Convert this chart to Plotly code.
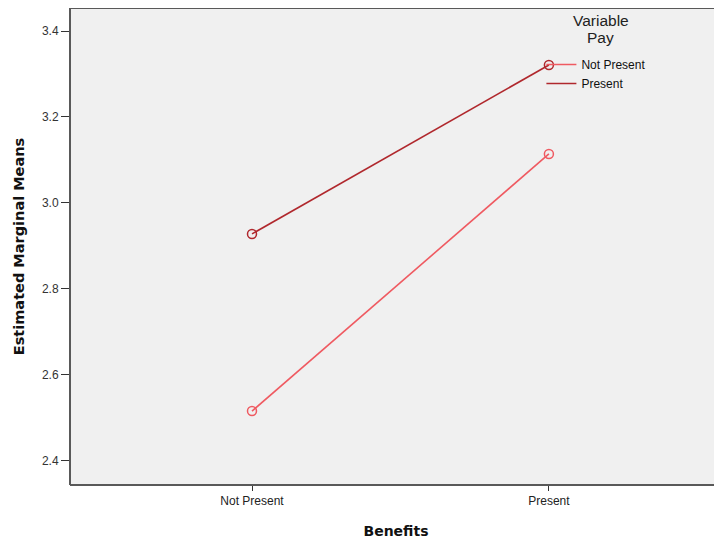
import plotly.graph_objects as go

benefits = ["Not Present", "Present"]
vp_not_present = [2.516, 3.114]
vp_present = [2.928, 3.321]
series_names = ["Not Present", "Present"]
colors = ["#ef5a61", "#b0282d"]
y_ticks = [2.4, 2.6, 2.8, 3.0, 3.2, 3.4]
legend_title_lines = ["Variable", "Pay"]

fig = go.Figure()
for name, vals, col in zip(series_names, [vp_not_present, vp_present], colors):
    fig.add_trace(go.Scatter(
        x=benefits, y=vals, mode="lines+markers", name=name,
        line=dict(color=col, width=1.6),
        marker=dict(symbol="circle-open", size=9, color=col, line=dict(width=1.5, color=col)),
        showlegend=False,
    ))
for name, col in zip(series_names, colors):
    fig.add_trace(go.Scatter(
        x=[None], y=[None], mode="lines", name=name,
        line=dict(color=col, width=1.6), showlegend=True,
    ))

title_annots = [
    dict(text=t, xref="paper", yref="paper", x=0.8144, y=yy,
         xanchor="center", yanchor="middle", align="center", showarrow=False,
         font=dict(size=15.5, color="#222"))
    for t, yy in zip(legend_title_lines, [0.9748, 0.9392])
]

frame = "#595959"
fig.update_layout(
    width=714, height=536,
    margin=dict(l=62, r=0, t=0, b=59),
    paper_bgcolor="white",
    plot_bgcolor="#f0f0f0",
    font=dict(family="Liberation Sans, Arial, sans-serif", size=12, color="#222"),
    xaxis=dict(
        type="category", range=[-0.613, 1.583],
        showgrid=False, zeroline=False, showline=False,
        ticks="outside", ticklen=5, tickcolor="#333", tickwidth=1,
        tickfont=dict(size=12, color="#222"),
        title=dict(text="<b>Benefits</b>", standoff=18,
                   font=dict(family="DejaVu Sans, sans-serif", size=14, color="#111")),
    ),
    yaxis=dict(
        range=[2.344, 3.4535], tickvals=y_ticks,
        ticktext=[f"{v:.1f}" for v in y_ticks],
        showgrid=False, zeroline=False, showline=False,
        ticks="outside", ticklen=8, tickcolor="#333", tickwidth=1,
        tickfont=dict(size=12, color="#333"),
        title=dict(text="<b>Estimated Marginal Means</b>", standoff=13,
                   font=dict(family="DejaVu Sans, sans-serif", size=14.5, color="#111")),
    ),
    legend=dict(
        x=0.723, y=0.912, xanchor="left", yanchor="top",
        bgcolor="rgba(0,0,0,0)",
        font=dict(size=12, color="#111"),
        tracegroupgap=0,
    ),
    annotations=title_annots,
    shapes=[
        dict(type="line", xref="paper", yref="paper", x0=0, x1=0, y0=0, y1=1,
             line=dict(color=frame, width=2)),
        dict(type="line", xref="paper", yref="paper", x0=0, x1=1.01, y0=0, y1=0,
             line=dict(color=frame, width=2)),
        dict(type="line", xref="paper", yref="paper", x0=0, x1=1.01, y0=1, y1=1,
             line=dict(color=frame, width=2)),
    ],
)

fig.write_html("out.html")
